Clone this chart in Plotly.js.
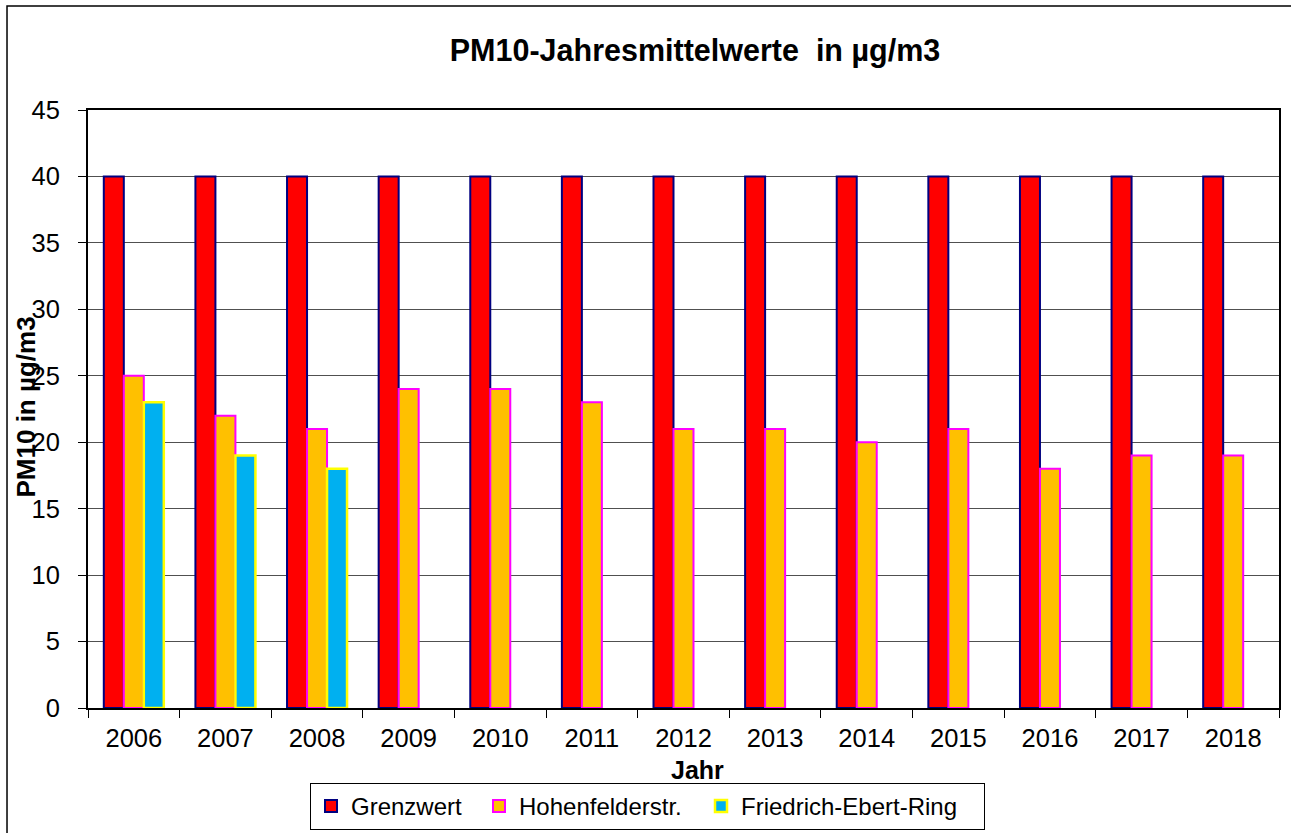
<!DOCTYPE html>
<html>
<head>
<meta charset="utf-8">
<script src="https://cdn.plot.ly/plotly-3.0.1.min.js"></script>
<style>
html,body{margin:0;padding:0;background:#fff;}
#chart{width:1291px;height:833px;}
</style>
</head>
<body>
<div id="chart"></div>
<script>
const years = ['2006','2007','2008','2009','2010','2011','2012','2013','2014','2015','2016','2017','2018'];
const grenzwert = [40,40,40,40,40,40,40,40,40,40,40,40,40];
const hohenfelderstr = [25,22,21,24,24,23,21,21,20,21,18,19,19];
const friedrichEbertRing = [23,19,18,null,null,null,null,null,null,null,null,null,null];
const yTicks = [0,5,10,15,20,25,30,35,40,45];

const FONT = 'Liberation Sans, Arial, sans-serif';

const traces = [
  {type:'bar', name:'Grenzwert', x:years, y:grenzwert, legendwidth:123,
   marker:{color:'#FF0000', line:{color:'#000080', width:2}}},
  {type:'bar', name:'Hohenfelderstr.', x:years, y:hohenfelderstr, legendwidth:177,
   marker:{color:'#FFC000', line:{color:'#FF00FF', width:2}}},
  {type:'bar', name:'Friedrich-Ebert-Ring', x:years, y:friedrichEbertRing, legendwidth:238,
   marker:{color:'#00B0F0', line:{color:'#FFFF00', width:2.5}}}
];

const layout = {
  width:1291, height:833,
  margin:{l:88, r:12, t:110, b:125},
  paper_bgcolor:'#fff', plot_bgcolor:'#fff',
  font:{family:FONT, color:'#000'},
  barmode:'group', bargap:0.345, bargroupgap:0,
  showlegend:true,
  title:{text:'<b>PM10-Jahresmittelwerte  in µg/m3</b>', font:{family:FONT, size:30.5, color:'#000'},
         xref:'container', x:695/1291, xanchor:'center', yref:'container', y:0.94, yanchor:'middle', automargin:false},
  xaxis:{type:'category', tickson:'boundaries', ticks:'outside', ticklen:8, tickcolor:'#000', tickwidth:1,
         showline:true, linecolor:'#000', linewidth:2, mirror:true, showgrid:false, automargin:false,
         ticklabelstandoff:6,
         tickfont:{family:FONT, size:25.5, color:'#000'}},
  yaxis:{range:[0,45], tickvals:yTicks, ticktext:yTicks.map(String), ticks:'outside', ticklen:8, tickcolor:'#000',
         showline:true, linecolor:'#000', linewidth:2, mirror:true, automargin:false, ticklabelstandoff:13,
         showgrid:true, gridcolor:'#505050', gridwidth:1, zeroline:false,
         tickfont:{family:FONT, size:25.5, color:'#000'}},
  legend:{orientation:'h', x:(310-88)/1191, xanchor:'left', yref:'container', y:1-783/833, yanchor:'top',
          bordercolor:'#000', borderwidth:1, bgcolor:'#fff',
          font:{family:FONT, size:24, color:'#000'}, itemwidth:30, traceorder:'normal'},
  annotations:[
    {text:'<b>PM10 in µg/m3</b>', textangle:-90, xref:'paper', yref:'paper', x:(26-88)/1191, y:(708-407.5)/598,
     xanchor:'center', yanchor:'middle', showarrow:false, font:{family:FONT, size:26, color:'#000'}},
    {text:'<b>Jahr</b>', xref:'paper', yref:'paper', x:(697-88)/1191, y:(708-770)/598,
     xanchor:'center', yanchor:'middle', showarrow:false, font:{family:FONT, size:25, color:'#000'}}
  ],
  shapes:[
    {type:'rect', xref:'paper', yref:'paper', x0:-0.068, x1:1.05, y0:-0.3, y1:1.174,
     line:{color:'#000', width:1.5}, fillcolor:'rgba(0,0,0,0)', layer:'below'}
  ]
};

Plotly.newPlot('chart', traces, layout, {displayModeBar:false, staticPlot:true});
</script>
</body>
</html>
